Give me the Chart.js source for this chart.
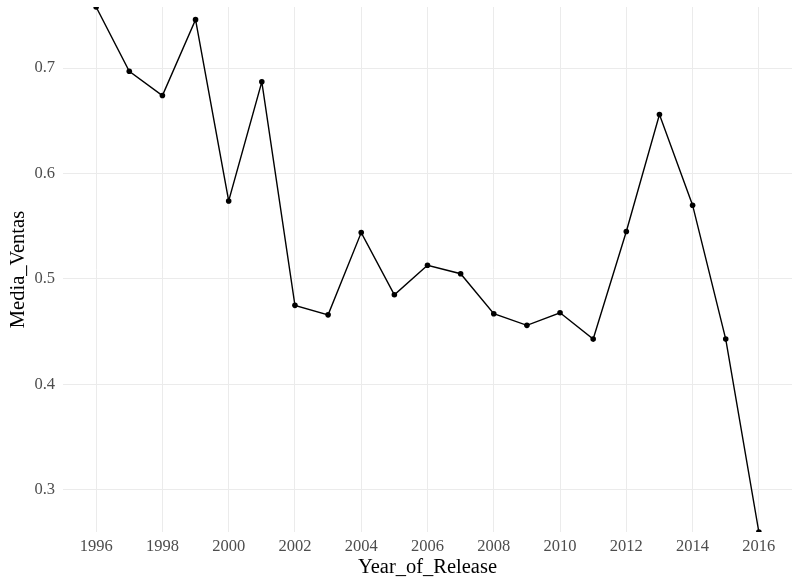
<!DOCTYPE html>
<html>
<head>
<meta charset="utf-8">
<script src="https://cdn.jsdelivr.net/npm/chart.js@4"></script>
<style>
  html, body { margin: 0; padding: 0; background: #fff; }
  #wrap { width: 800px; height: 586px; }
</style>
</head>
<body>
<div id="wrap"><canvas id="chart"></canvas></div>
<script>
/* =========================
   DATOS
========================= */
const years = [1996, 1997, 1998, 1999, 2000, 2001, 2002, 2003, 2004, 2005, 2006,
               2007, 2008, 2009, 2010, 2011, 2012, 2013, 2014, 2015, 2016];
const mediaVentas = [0.758, 0.697, 0.674, 0.746, 0.574, 0.687, 0.475, 0.466, 0.544, 0.485, 0.513,
                     0.505, 0.467, 0.456, 0.468, 0.443, 0.545, 0.656, 0.570, 0.443, 0.260];
const xTicks = [1996, 1998, 2000, 2002, 2004, 2006, 2008, 2010, 2012, 2014, 2016];
const yTicks = [0.3, 0.4, 0.5, 0.6, 0.7];

/* =========================
   CONFIGURACIÓN GLOBAL
========================= */
Chart.defaults.font.family = "'Liberation Serif', 'DejaVu Serif', serif";
Chart.defaults.color = "#4d4d4d";

const points = years.map((y, i) => ({ x: y, y: mediaVentas[i] }));

// quitar el espacio extra que Chart.js reserva para las etiquetas de los extremos
function noEdgePadding(scale) {
    scale.paddingTop = 0;
    scale.paddingBottom = 0;
    scale.paddingLeft = 0;
    scale.paddingRight = 0;
}

new Chart(document.getElementById("chart"), {
    type: "line",
    data: {
        datasets: [{
            data: points,
            borderColor: "#000000",
            backgroundColor: "#000000",
            borderWidth: 1.4,
            pointRadius: 2.8,
            pointHoverRadius: 2.8,
            pointBorderWidth: 0,
            tension: 0,
            clip: 0
        }]
    },
    options: {
        responsive: true,
        maintainAspectRatio: false,
        animation: false,
        layout: { padding: { left: 4, right: 8, top: 7, bottom: 6 } },
        plugins: {
            legend: { display: false },
            tooltip: { enabled: false }
        },
        scales: {
            x: {
                type: "linear",
                min: 1995,
                max: 2017,
                afterBuildTicks: (scale) => { scale.ticks = xTicks.map(v => ({ value: v })); },
                afterFit: (scale) => { noEdgePadding(scale); scale.height = 48; },
                ticks: {
                    padding: 5,
                    font: { size: 16.5 },
                    color: "#4d4d4d",
                    callback: (v) => String(v),
                    maxRotation: 0
                },
                grid: { color: "#ebebeb", lineWidth: 1, drawTicks: false },
                border: { display: false },
                title: {
                    display: true,
                    text: "Year_of_Release",
                    color: "#000000",
                    font: { size: 20.5 },
                    padding: { top: 0, bottom: 0 }
                }
            },
            y: {
                min: 0.26,
                max: 0.758,
                afterBuildTicks: (scale) => { scale.ticks = yTicks.map(v => ({ value: v })); },
                afterFit: (scale) => { noEdgePadding(scale); scale.width = 59; },
                ticks: {
                    padding: 8,
                    font: { size: 16.5 },
                    color: "#4d4d4d",
                    callback: (v) => v.toFixed(1)
                },
                grid: { color: "#ebebeb", lineWidth: 1, drawTicks: false },
                border: { display: false },
                title: {
                    display: true,
                    text: "Media_Ventas",
                    color: "#000000",
                    font: { size: 20.5 },
                    padding: { top: 2, bottom: 2 }
                }
            }
        }
    }
});
</script>
</body>
</html>
